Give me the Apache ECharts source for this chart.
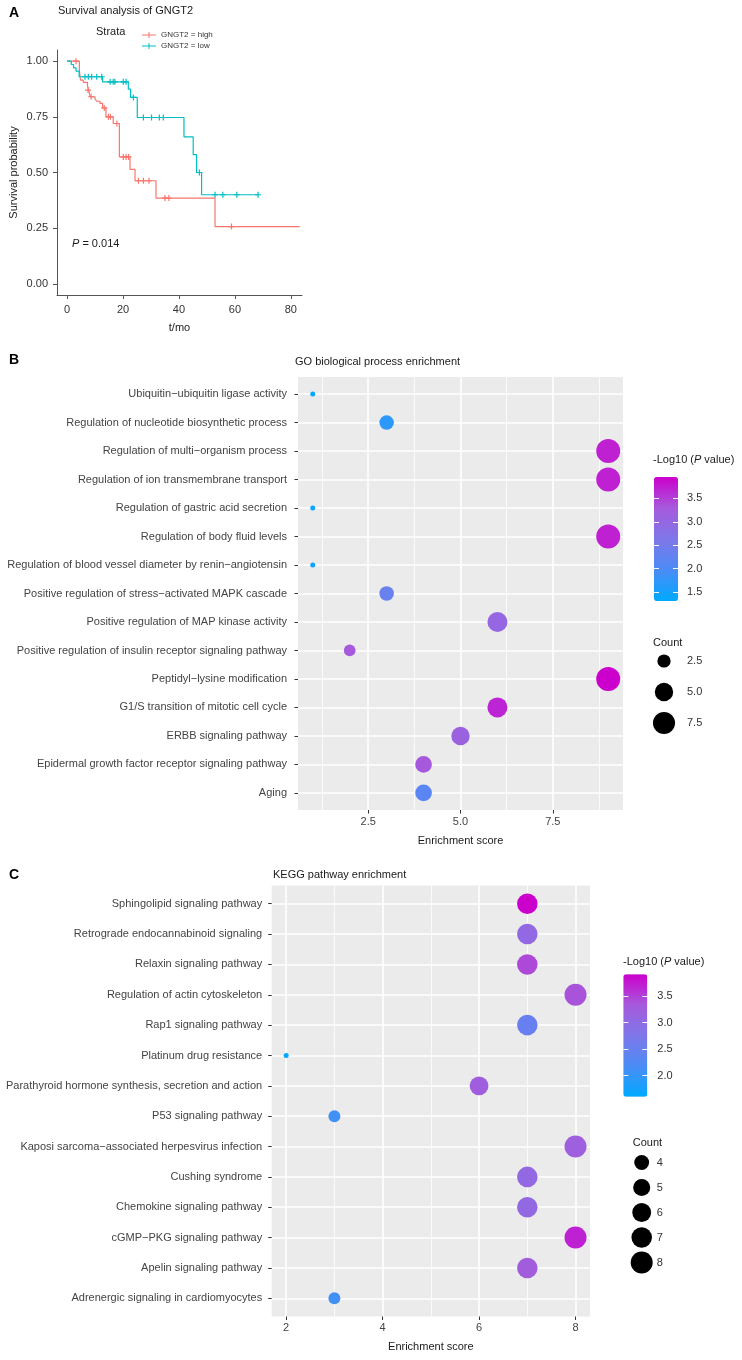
<!DOCTYPE html>
<html><head><meta charset="utf-8">
<script src="https://cdn.jsdelivr.net/npm/echarts@6/dist/echarts.min.js"></script>
<style>html,body{margin:0;padding:0;background:#fff}#c{width:742px;height:1360px}</style>
</head><body><div id="c"></div>
<script>
const FONT = 'Liberation Sans, Arial, sans-serif';

// ---------- Panel A: Kaplan-Meier ----------
const strataNames = ['GNGT2 = high', 'GNGT2 = low'];
const kmTicksX = [0, 20, 40, 60, 80];
const kmTicksY = [0, 0.25, 0.5, 0.75, 1];
const kmHigh = [[0,1],[4.4,0.958],[4.8,0.915],[5.8,0.905],[7.3,0.89],[7.7,0.87],[8.3,0.84],[10,0.83],[10.6,0.82],[11.8,0.81],[12.7,0.79],[13.9,0.75],[16.5,0.72],[18.7,0.57],[22.5,0.514],[24.3,0.463],[31.8,0.385],[52.9,0.257],[83.2,0.257]];
const kmLow = [[0,1],[1.5,0.985],[2.3,0.97],[3.2,0.955],[4.3,0.93],[12.7,0.907],[21.9,0.874],[22.7,0.837],[25.1,0.747],[41.8,0.66],[45.1,0.58],[46.3,0.5],[48.1,0.4],[68.3,0.4]];
const censorHigh = [[3.2,1],[7.5,0.87],[8.6,0.84],[13.3,0.79],[14.8,0.75],[15.5,0.75],[17.8,0.72],[20.1,0.57],[21.1,0.57],[22,0.57],[25.5,0.463],[27.3,0.463],[29.3,0.463],[35,0.385],[36.4,0.385],[58.8,0.257]];
const censorLow = [[6.4,0.93],[7.6,0.93],[8.8,0.93],[10.6,0.93],[12.4,0.93],[15.4,0.907],[16.5,0.907],[17.1,0.907],[20.1,0.907],[21.1,0.907],[23.7,0.837],[27.3,0.747],[30.2,0.747],[33,0.747],[34.4,0.747],[47.3,0.5],[52.9,0.4],[55.7,0.4],[60.7,0.4],[68.3,0.4]];

// ---------- Panel B: GO ----------
const goTerms = ['Ubiquitin\u2212ubiquitin ligase activity','Regulation of nucleotide biosynthetic process','Regulation of multi\u2212organism process','Regulation of ion transmembrane transport','Regulation of gastric acid secretion','Regulation of body fluid levels','Regulation of blood vessel diameter by renin\u2212angiotensin','Positive regulation of stress\u2212activated MAPK cascade','Positive regulation of MAP kinase activity','Positive regulation of insulin receptor signaling pathway','Peptidyl\u2212lysine modification','G1/S transition of mitotic cell cycle','ERBB signaling pathway','Epidermal growth factor receptor signaling pathway','Aging'];
const goScore = [1, 3, 9, 9, 1, 9, 1, 3, 6, 2, 9, 6, 5, 4, 4];
const goCount = [1, 3, 9, 9, 1, 9, 1, 3, 6, 2, 9, 6, 5, 4, 4];
const goLogP  = [1.31, 1.7, 3.72, 3.72, 1.4, 3.72, 1.45, 2.35, 3.0, 3.3, 3.955, 3.68, 3.1, 3.3, 2.15];
const goTicksX = [2.5, 5, 7.5];
const goMinorX = [1.25, 3.75, 6.25, 8.75];
const goColorTicks = [1.5, 2, 2.5, 3, 3.5];
const goCountBreaks = [2.5, 5, 7.5];

// ---------- Panel C: KEGG ----------
const keggTerms = ['Sphingolipid signaling pathway','Retrograde endocannabinoid signaling','Relaxin signaling pathway','Regulation of actin cytoskeleton','Rap1 signaling pathway','Platinum drug resistance','Parathyroid hormone synthesis, secretion and action','P53 signaling pathway','Kaposi sarcoma\u2212associated herpesvirus infection','Cushing syndrome','Chemokine signaling pathway','cGMP\u2212PKG signaling pathway','Apelin signaling pathway','Adrenergic signaling in cardiomyocytes'];
const keggScore = [7, 7, 7, 8, 7, 2, 6, 3, 8, 7, 7, 8, 7, 3];
const keggCount = [7, 7, 7, 8, 7, 2, 6, 3, 8, 7, 7, 8, 7, 3];
const keggLogP  = [3.908, 3.05, 3.45, 3.38, 2.5, 1.605, 3.25, 2.1, 3.22, 3.05, 3.05, 3.7, 3.28, 2.1];
const keggTicksX = [2, 4, 6, 8];
const keggMinorX = [3, 5, 7];
const keggColorTicks = [2, 2.5, 3, 3.5];
const keggCountBreaks = [4, 5, 6, 7, 8];

const palette = ['#00A9FF', '#4B8CF5', '#7F77EA', '#A65ADC', '#CC00CC'];

function sizeScale(counts, dmin, dmax) {
  const cmin = Math.min.apply(null, counts), cmax = Math.max.apply(null, counts);
  return c => dmin + (dmax - dmin) * Math.sqrt(Math.max(0, c - cmin) / (cmax - cmin));
}
const sizeB = sizeScale(goCount, 5, 24);
const sizeC = sizeScale(keggCount, 5, 22);

const goIdx = goTerms.map((_, i) => i);
const keggIdx = keggTerms.map((_, i) => i);
const goData = goTerms.map((_, i) => [goScore[i], i, goLogP[i], goCount[i]]);
const keggData = keggTerms.map((_, i) => [keggScore[i], i, keggLogP[i], keggCount[i]]);

const plus = 'path://M4,0H6V4H10V6H6V10H4V6H0V4H4Z';
const txt = (extra) => Object.assign({fontFamily: FONT, fontSize: 11, fontWeight: 'normal', color: '#1a1a1a', lineHeight: 13}, extra || {});
const rich = {i: {fontStyle: 'italic', fontWeight: 'normal', fontFamily: FONT, fontSize: 11, color: '#1a1a1a'}};

function title(text, left, top, extra) {
  return {text, left, top, padding: 0, textStyle: Object.assign(txt(), {rich}, extra || {})};
}

const hidden = {show: false};
function catValueY(grid, terms, idx, margin) {
  return {
    type: 'value', gridIndex: grid, min: -0.6, max: terms.length - 0.4, inverse: true,
    axisLine: {show: false, onZero: false},
    axisTick: {show: true, length: 3.5, customValues: idx, lineStyle: {color: '#333', width: 1}},
    axisLabel: {customValues: idx, margin, fontFamily: FONT, fontSize: 11, color: '#444',
      formatter: v => terms[Math.round(v)]},
    splitLine: {show: true, lineStyle: {color: '#fff', width: 1.6}}
  };
}
function majorX(grid, min, max, ticks, dec, name) {
  return {
    type: 'value', gridIndex: grid, min, max, position: 'bottom',
    name, nameLocation: 'middle', nameGap: 24, nameTextStyle: txt(),
    axisLine: {show: false, onZero: false},
    axisTick: {show: true, length: 3.5, customValues: ticks, lineStyle: {color: '#333'}},
    axisLabel: {customValues: ticks, margin: 6, fontFamily: FONT, fontSize: 11, color: '#444',
      formatter: v => v.toFixed(dec)},
    splitLine: {show: true, lineStyle: {color: '#fff', width: 1.6}}
  };
}
function minorX(grid, min, max, ticks) {
  return {
    type: 'value', gridIndex: grid, min, max, position: 'bottom',
    axisLine: {show: false, onZero: false}, axisLabel: {show: false},
    axisTick: {show: false, customValues: ticks},
    splitLine: {show: true, lineStyle: {color: '#fff', width: 0.8}}
  };
}
function barAxis(grid, min, max, ticks, pos, labels, margin) {
  return {
    type: 'value', gridIndex: grid, min, max, position: pos, z: 10,
    axisLine: {show: false, onZero: false},
    axisTick: {show: true, inside: true, length: 5, customValues: ticks, lineStyle: {color: '#fff', width: 1}},
    axisLabel: {show: labels, customValues: ticks, margin, fontFamily: FONT, fontSize: 11, color: '#333',
      formatter: v => v.toFixed(1)},
    splitLine: {show: false}
  };
}
function countAxis(grid, breaks, dec, margin) {
  return {
    type: 'category', gridIndex: grid, position: 'right', inverse: true,
    data: breaks.map(v => v.toFixed(dec)),
    axisLine: {show: false, onZero: false}, axisTick: {show: false}, splitLine: {show: false},
    axisLabel: {margin, fontFamily: FONT, fontSize: 11, color: '#333'}
  };
}
const boldLetter = {fontSize: 14, fontWeight: 'bold', lineHeight: 16, color: '#000'};

const option = {
  animation: false,
  backgroundColor: '#fff',
  textStyle: {fontFamily: FONT},
  title: [
    title('A', 9, 5, boldLetter),
    title('Survival analysis of GNGT2', 58, 4.5),
    title('Strata', 96, 25),
    title('{i|P} = 0.014', 72, 237.5),
    title('B', 9, 352, boldLetter),
    title('GO biological process enrichment', 295, 355.5),
    title('-Log10 ({i|P} value)', 653, 453.5),
    title('Count', 653, 636.5),
    title('C', 9, 867, boldLetter),
    title('KEGG pathway enrichment', 273, 868.5),
    title('-Log10 ({i|P} value)', 623, 955.5),
    title('Count', 632.7, 1136.5)
  ],
  legend: {
    data: strataNames, left: 137, top: 26, orient: 'vertical', itemWidth: 14, itemHeight: 7, itemGap: 3,
    icon: 'path://M0,3H14V4H0Z M6.5,0.5H7.5V6.5H6.5Z', selectedMode: false,
    textStyle: {fontFamily: FONT, fontSize: 8, color: '#333'}
  },
  grid: [
    {left: 57, top: 50, width: 245, height: 245},
    {left: 298, top: 377, width: 325, height: 433, show: true, backgroundColor: '#EBEBEB', borderWidth: 0},
    {left: 271.7, top: 885.5, width: 318.3, height: 431, show: true, backgroundColor: '#EBEBEB', borderWidth: 0},
    {left: 654, top: 477, width: 24, height: 124},
    {left: 652, top: 645.5, width: 24, height: 93},
    {left: 623.3, top: 974.3, width: 24, height: 122.4},
    {left: 629.7, top: 1150, width: 24, height: 125}
  ],
  visualMap: [
    {type: 'continuous', seriesIndex: 4, dimension: 2, min: 1.31, max: 3.955, left: 654, top: 477,
     itemWidth: 24, itemHeight: 124, calculable: false, hoverLink: false, padding: 0, text: null,
     inRange: {color: palette}},
    {type: 'continuous', seriesIndex: 5, dimension: 2, min: 1.605, max: 3.908, left: 623.3, top: 974.3,
     itemWidth: 24, itemHeight: 122.4, calculable: false, hoverLink: false, padding: 0, text: null,
     inRange: {color: palette}}
  ],
  xAxis: [
    {type: 'value', gridIndex: 0, min: -3.6, max: 84,
     name: 't/mo', nameLocation: 'middle', nameGap: 26, nameTextStyle: txt(),
     axisLine: {show: true, onZero: false, lineStyle: {color: '#555', width: 1}},
     axisTick: {show: true, length: 4, customValues: kmTicksX, lineStyle: {color: '#555'}},
     axisLabel: {customValues: kmTicksX, margin: 9, fontFamily: FONT, fontSize: 11, color: '#333'},
     splitLine: {show: false}},
    majorX(1, 0.6, 9.4, goTicksX, 1, 'Enrichment score'),
    minorX(1, 0.6, 9.4, goMinorX),
    majorX(2, 1.7, 8.3, keggTicksX, 0, 'Enrichment score'),
    minorX(2, 1.7, 8.3, keggMinorX),
    Object.assign({type: 'value', gridIndex: 3, min: 0, max: 1}, hidden),
    Object.assign({type: 'value', gridIndex: 4, min: -1, max: 1}, hidden),
    Object.assign({type: 'value', gridIndex: 5, min: 0, max: 1}, hidden),
    Object.assign({type: 'value', gridIndex: 6, min: -1, max: 1}, hidden)
  ],
  yAxis: [
    {type: 'value', gridIndex: 0, min: -0.05, max: 1.05,
     name: 'Survival probability', nameLocation: 'middle', nameGap: 37, nameTextStyle: txt(),
     axisLine: {show: true, onZero: false, lineStyle: {color: '#555', width: 1}},
     axisTick: {show: true, length: 4, customValues: kmTicksY, lineStyle: {color: '#555'}},
     axisLabel: {customValues: kmTicksY, margin: 9, fontFamily: FONT, fontSize: 11, color: '#333',
       formatter: v => v.toFixed(2)},
     splitLine: {show: false}},
    catValueY(1, goTerms, goIdx, 11),
    catValueY(2, keggTerms, keggIdx, 9.5),
    barAxis(3, 1.31, 3.955, goColorTicks, 'right', true, 9),
    barAxis(3, 1.31, 3.955, goColorTicks, 'left', false, 0),
    countAxis(4, goCountBreaks, 1, 11),
    barAxis(5, 1.605, 3.908, keggColorTicks, 'right', true, 10),
    barAxis(5, 1.605, 3.908, keggColorTicks, 'left', false, 0),
    countAxis(6, keggCountBreaks, 0, 3)
  ],
  series: [
    {name: strataNames[0], type: 'line', step: 'end', xAxisIndex: 0, yAxisIndex: 0, data: kmHigh,
     symbol: 'none', color: '#F8766D', lineStyle: {width: 1.2}},
    {name: strataNames[1], type: 'line', step: 'end', xAxisIndex: 0, yAxisIndex: 0, data: kmLow,
     symbol: 'none', color: '#00BFC4', lineStyle: {width: 1.2}},
    {name: 'censor high', type: 'scatter', xAxisIndex: 0, yAxisIndex: 0, data: censorHigh,
     symbol: plus, symbolSize: 6, itemStyle: {color: '#F8766D', opacity: 1}},
    {name: 'censor low', type: 'scatter', xAxisIndex: 0, yAxisIndex: 0, data: censorLow,
     symbol: plus, symbolSize: 6, itemStyle: {color: '#00BFC4', opacity: 1}},
    {name: 'GO', type: 'scatter', xAxisIndex: 1, yAxisIndex: 1, data: goData,
     symbolSize: d => sizeB(d[3]), itemStyle: {opacity: 1}},
    {name: 'KEGG', type: 'scatter', xAxisIndex: 3, yAxisIndex: 2, data: keggData,
     symbolSize: d => sizeC(d[3]), itemStyle: {opacity: 1}},
    {name: 'GO count', type: 'scatter', xAxisIndex: 6, yAxisIndex: 5,
     data: goCountBreaks.map((v, i) => [0, i, v]), symbolSize: d => sizeB(d[2]), itemStyle: {color: '#000', opacity: 1}},
    {name: 'KEGG count', type: 'scatter', xAxisIndex: 8, yAxisIndex: 8,
     data: keggCountBreaks.map((v, i) => [0, i, v]), symbolSize: d => sizeC(d[2]), itemStyle: {color: '#000', opacity: 1}}
  ]
};

const chart = echarts.init(document.getElementById('c'), null, {renderer: 'canvas'});
chart.setOption(option);
</script>
</body></html>
